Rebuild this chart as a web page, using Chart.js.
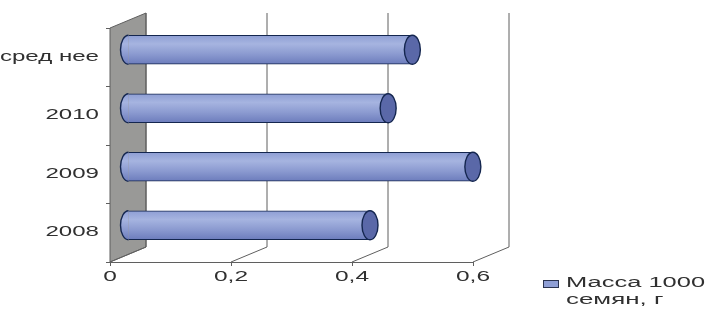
<!DOCTYPE html>
<html><head><meta charset="utf-8">
<style>html,body{margin:0;padding:0;background:#fff}canvas{display:block;filter:blur(0.45px)}</style>
<script src="https://cdn.jsdelivr.net/npm/chart.js@4"></script>
</head><body>
<canvas id="c" width="711" height="317"></canvas>
<script>
const categories = ['сред нее', '2010', '2009', '2008'];
const seriesName = 'Масса 1000 семян, г';
const legendLines = ['Масса 1000', 'семян, г'];
const seedMass = [0.47, 0.43, 0.57, 0.40];
const xTicks = [0, 0.2, 0.4, 0.6];

const DEPTH_X = 36, DEPTH_Y = 15, BAR_H = 29, CAP_RX = 8;
const LINE = '#5f5f5f', TEXT = '#303030', EDGE = '#14264f';
const FONT = '14px "Liberation Sans"';

function stretchedText(ctx, s, x, y, align, stretch) {
  ctx.save();
  ctx.font = FONT; ctx.fillStyle = TEXT; ctx.textBaseline = 'middle'; ctx.textAlign = align;
  ctx.translate(x, y); ctx.scale(stretch, 1);
  ctx.fillText(s, 0, 0);
  ctx.restore();
}
function barGradient(ctx, py) {
  const g = ctx.createLinearGradient(0, py - BAR_H / 2, 0, py + BAR_H / 2);
  g.addColorStop(0, '#8e9ed4');
  g.addColorStop(0.3, '#a6b4e0');
  g.addColorStop(0.65, '#8b9ad0');
  g.addColorStop(1, '#6c7cbc');
  return g;
}
function capPath(ctx, x, y, a0, a1) {
  ctx.beginPath();
  ctx.ellipse(x, y, CAP_RX, BAR_H / 2, 0, a0, a1);
}
const box3d = {
  id: 'box3d',
  beforeDatasetsDraw(chart) {
    const ctx = chart.ctx, x = chart.scales.x, a = chart.chartArea;
    ctx.save();
    const x0 = x.getPixelForValue(0);
    ctx.beginPath();
    ctx.moveTo(x0, a.top); ctx.lineTo(x0 + DEPTH_X, a.top - DEPTH_Y);
    ctx.lineTo(x0 + DEPTH_X, a.bottom - DEPTH_Y); ctx.lineTo(x0, a.bottom);
    ctx.closePath(); ctx.fillStyle = '#999997'; ctx.fill();
    ctx.strokeStyle = LINE; ctx.lineWidth = 1; ctx.stroke();
    xTicks.forEach(v => {
      const px = x.getPixelForValue(v);
      ctx.beginPath();
      ctx.moveTo(px, a.bottom); ctx.lineTo(px + DEPTH_X, a.bottom - DEPTH_Y);
      ctx.lineTo(px + DEPTH_X, a.top - DEPTH_Y);
      ctx.stroke();
    });
    ctx.restore();
    ctx.save();
    ctx.translate(DEPTH_X / 2, -DEPTH_Y / 2);
    chart.getDatasetMeta(0).data.forEach(el => {
      capPath(ctx, el.base, el.y, Math.PI / 2, Math.PI * 1.5);
      ctx.fillStyle = barGradient(ctx, el.y); ctx.fill();
      ctx.lineWidth = 1.4; ctx.strokeStyle = EDGE; ctx.stroke();
    });
  },
  afterDatasetsDraw(chart) {
    const ctx = chart.ctx;
    chart.getDatasetMeta(0).data.forEach(el => {
      capPath(ctx, el.x, el.y, 0, Math.PI * 2);
      ctx.fillStyle = '#5a68a8'; ctx.fill();
      ctx.lineWidth = 1.4; ctx.strokeStyle = EDGE; ctx.stroke();
    });
    ctx.restore();
  },
  afterDraw(chart) {
    const ctx = chart.ctx, x = chart.scales.x, y = chart.scales.y;
    categories.forEach((c, i) => {
      stretchedText(ctx, c, 99, y.getPixelForValue(i) - 0.5, 'right', 1.72);
    });
    xTicks.forEach(v => {
      stretchedText(ctx, String(v).replace('.', ','), x.getPixelForValue(v), 277, 'center', 1.75);
    });
    ctx.save();
    ctx.fillStyle = '#8f9fd6'; ctx.strokeStyle = '#2a3350'; ctx.lineWidth = 1;
    ctx.fillRect(543.5, 280.5, 15, 7); ctx.strokeRect(543.5, 280.5, 15, 7);
    ctx.restore();
    stretchedText(ctx, legendLines[0], 566, 283, 'left', 1.82);
    stretchedText(ctx, legendLines[1], 566, 300, 'left', 1.85);
  }
};
new Chart(document.getElementById('c'), {
  type: 'bar',
  data: {
    labels: categories,
    datasets: [{
      label: seriesName,
      data: seedMass,
      barThickness: BAR_H,
      borderColor: EDGE,
      borderWidth: { top: 1.2, bottom: 1.2, left: 0, right: 0 },
      backgroundColor(c) {
        const chart = c.chart;
        if (!chart.chartArea || c.dataIndex === undefined) return '#8d9dd3';
        return barGradient(chart.ctx, chart.scales.y.getPixelForValue(c.dataIndex));
      }
    }]
  },
  options: {
    indexAxis: 'y',
    responsive: false,
    animation: false,
    layout: { padding: { top: 28, right: 238, left: 0, bottom: 0 } },
    plugins: { legend: { display: false }, tooltip: { enabled: false } },
    scales: {
      x: {
        min: 0, max: 0.6,
        afterFit(s) { s.height = 55; },
        afterBuildTicks(s) { s.ticks = xTicks.map(v => ({ value: v })); },
        ticks: { display: false },
        grid: { drawOnChartArea: false, tickLength: 4, color: LINE },
        border: { color: LINE }
      },
      y: {
        afterFit(s) { s.width = 110; },
        ticks: { display: false },
        grid: { drawOnChartArea: false, tickLength: 4, color: LINE },
        border: { color: LINE }
      }
    }
  },
  plugins: [box3d]
});
</script>
</body></html>
